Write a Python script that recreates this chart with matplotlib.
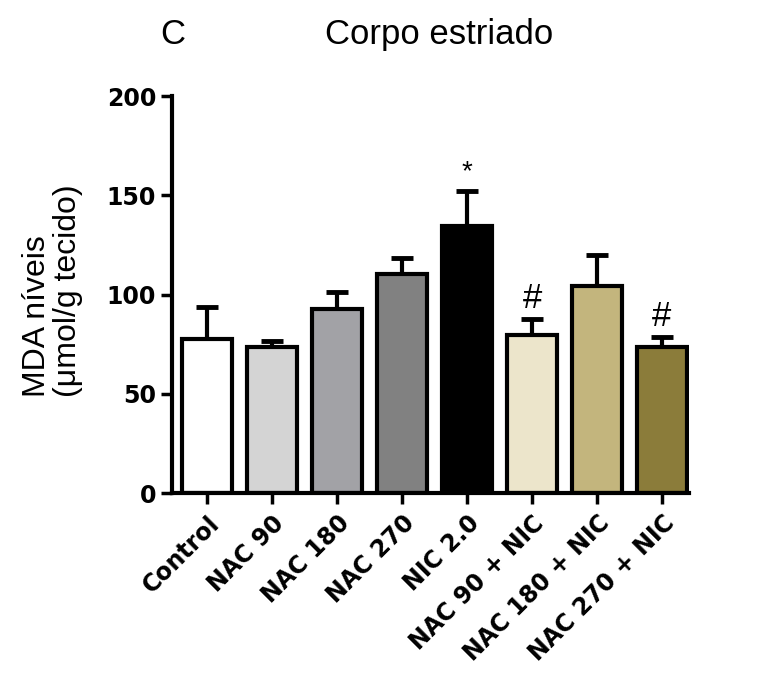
import matplotlib.pyplot as plt
import numpy as np

plt.rcParams['font.family'] = ['Liberation Sans', 'DejaVu Sans']

grupos = ['Control', 'NAC 90', 'NAC 180', 'NAC 270', 'NIC 2.0',
          'NAC 90 + NIC', 'NAC 180 + NIC', 'NAC 270 + NIC']
medias = [77.5, 73.5, 92.5, 110.5, 134.5, 79.5, 104.5, 73.5]
erros = [16.0, 3.0, 9.0, 8.0, 17.5, 8.0, 15.5, 5.0]
cores = ['#ffffff', '#d4d4d4', '#a2a2a6', '#818181', '#000000',
         '#ece5cb', '#c3b57d', '#8b7c3a']
marcas = ['', '', '', '', '*', '#', '', '#']


def main():
    fig = plt.figure(figsize=(7.63, 6.88), dpi=100)
    ax = fig.add_axes([0.2254, 0.2834, 0.678, 0.577])

    x = np.arange(len(grupos))
    ax.bar(x, medias, width=0.76, color=cores, edgecolor='black',
           linewidth=3, zorder=2)
    # so a barra de erro para cima
    ax.errorbar(x, medias, yerr=[np.zeros(len(erros)), erros], fmt='none',
                ecolor='black', elinewidth=3, capsize=8, capthick=3.5, zorder=1)

    for xi, m, e, s in zip(x, medias, erros, marcas):
        if s == '*':
            ax.text(xi, m + e + 3, s, ha='center', va='bottom', fontsize=20)
        elif s == '#':
            ax.text(xi, m + e + 2, s, ha='center', va='bottom', fontsize=25)

    ax.set_xlim(-0.54, 7.42)
    ax.set_ylim(0, 200)
    ax.set_yticks([0, 50, 100, 150, 200])
    ax.set_xticks(x)
    ax.set_xticklabels(grupos, rotation=45, ha='right', rotation_mode='anchor',
                       fontsize=17, fontweight='bold', family='DejaVu Sans')
    for lab in ax.get_yticklabels():
        lab.set_fontsize(17)
        lab.set_fontweight('bold')
        lab.set_family('DejaVu Sans')

    ax.spines['top'].set_visible(False)
    ax.spines['right'].set_visible(False)
    ax.spines['left'].set_linewidth(3)
    ax.spines['bottom'].set_linewidth(3)
    ax.tick_params(axis='both', width=2.5, length=8, direction='out')
    ax.tick_params(axis='x', pad=5)

    ax.set_ylabel('MDA níveis\n(μmol/g tecido)', fontsize=23, linespacing=1.05,
                  multialignment='left')
    ax.yaxis.set_label_coords(-0.172, 0.509)

    fig.text(0.227, 0.95, 'C', fontsize=25, ha='center', va='center')
    fig.text(0.575, 0.95, 'Corpo estriado', fontsize=25, ha='center', va='center')

    fig.savefig('out.png', dpi=100)


if __name__ == "__main__":
    main()
